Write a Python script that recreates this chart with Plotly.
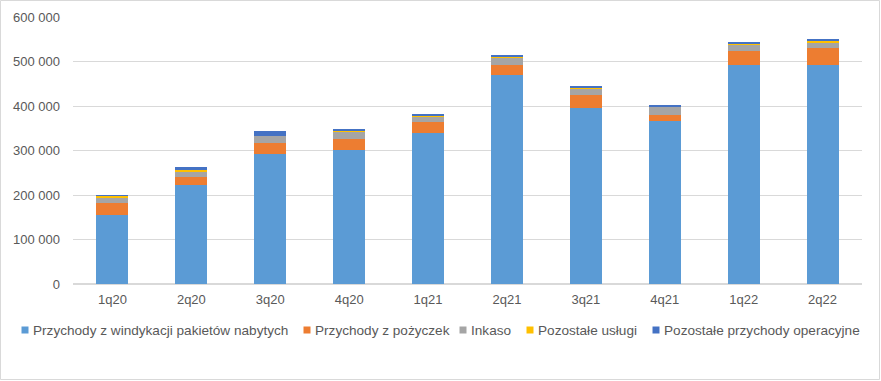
import plotly.graph_objects as go

categories = ["1q20", "2q20", "3q20", "4q20", "1q21", "2q21", "3q21", "4q21", "1q22", "2q22"]
windykacja = [155000, 222000, 292000, 301000, 339000, 470000, 396000, 366000, 492000, 492000]
pozyczki = [27000, 18000, 25000, 25000, 24700, 22500, 28500, 13500, 32000, 37500]
inkaso = [13000, 13500, 15700, 15700, 13500, 17000, 15700, 18700, 14000, 14200]
uslugi = [3000, 2500, 500, 2200, 2000, 2000, 2000, 500, 2500, 3000]
pozostale = [1500, 6500, 9700, 2200, 2000, 2000, 2000, 2000, 2000, 2200]

series_names = ["Przychody z windykacji pakietów nabytych", "Przychody z pożyczek", "Inkaso",
                "Pozostałe usługi", "Pozostałe przychody operacyjne"]
series_values = [windykacja, pozyczki, inkaso, uslugi, pozostale]
colors = ["#5B9BD5", "#ED7D31", "#A5A5A5", "#FFC000", "#4472C4"]

# plot area in pixels
L, R, T, B = 73, 862, 17, 284
W, H = R - L, B - T

def px_x(px):
    return (px - L) / W

def px_y(py):
    return (B - py) / H

fig = go.Figure()
for name, vals, col in zip(series_names, series_values, colors):
    fig.add_trace(go.Bar(x=categories, y=vals, name=name, showlegend=False,
                         marker=dict(color=col, line=dict(width=0))))

# custom legend (horizontal, below the plot)
legend_marker_px = [25, 307, 463, 530, 656]
legend_y = 330
shapes = [dict(type="rect", xref="paper", yref="paper",
               x0=px_x(0.5), x1=px_x(879.5), y0=px_y(379.5), y1=px_y(0.5),
               line=dict(color="#D9D9D9", width=1), fillcolor="rgba(0,0,0,0)")]
annotations = []
for name, col, mx in zip(series_names, colors, legend_marker_px):
    shapes.append(dict(type="rect", xref="paper", yref="paper",
                       x0=px_x(mx - 3.5), x1=px_x(mx + 3.5),
                       y0=px_y(legend_y + 3.5), y1=px_y(legend_y - 3.5),
                       line=dict(width=0), fillcolor=col))
    annotations.append(dict(xref="paper", yref="paper", x=px_x(mx + 6), y=px_y(legend_y),
                            xanchor="left", yanchor="middle", showarrow=False, text=name,
                            font=dict(family="Liberation Sans", size=13.6, color="#595959")))

fig.update_layout(
    barmode="stack",
    bargap=0.595,
    width=881, height=381,
    margin=dict(l=L, r=881 - R, t=T, b=381 - B, autoexpand=False),
    paper_bgcolor="white", plot_bgcolor="white",
    separators=", ",
    font=dict(family="Liberation Sans", size=13, color="#595959"),
    showlegend=False,
    xaxis=dict(showgrid=False, showline=False, ticks="", tickangle=0, automargin=False,
               ticklabelstandoff=6, tickfont=dict(size=13, color="#595959")),
    yaxis=dict(range=[0, 600000], dtick=100000, tickformat=",d", showgrid=True, automargin=False,
               gridcolor="#D9D9D9", gridwidth=1, zeroline=True, zerolinecolor="#D9D9D9",
               showline=False, ticks="", ticklabelstandoff=12,
               tickfont=dict(size=13, color="#595959")),
    shapes=shapes,
    annotations=annotations,
)

fig.write_html("out.html", config={"displayModeBar": False},
               post_script="document.body.style.margin='0';document.body.style.overflow='hidden';")
